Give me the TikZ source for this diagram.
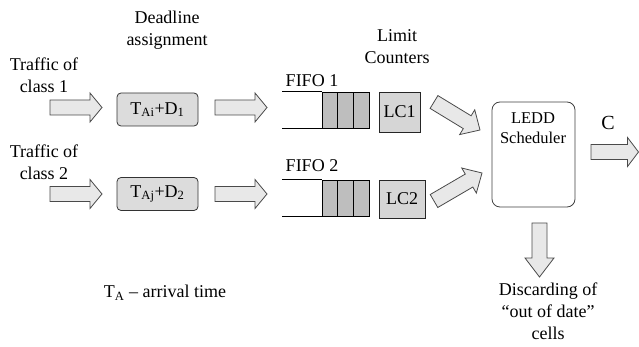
\documentclass[tikz,border=0pt]{standalone}
\usepackage{fontspec}
\setmainfont{Liberation Serif}
\usetikzlibrary{calc}
\definecolor{arrfill}{HTML}{E8E8E8}
\definecolor{arrline}{HTML}{4A4A4A}
\definecolor{cellgray}{HTML}{BEBEBE}
\definecolor{boxgray}{HTML}{DCDCDC}
\definecolor{lcgray}{HTML}{D6D6D6}
\newcommand{\blockarr}[3]{%
  \coordinate (bah) at ($(#2)!#3!(#1)$);
  \draw[blockarrow] ($(#1)!7.5pt!90:(#2)$) -- ($(bah)!7.5pt!90:(#2)$) -- ($(bah)!14.5pt!90:(#2)$) -- (#2)
    -- ($(bah)!14.5pt!-90:(#2)$) -- ($(bah)!7.5pt!-90:(#2)$) -- ($(#1)!7.5pt!-90:(#2)$) -- cycle;
}
\begin{document}
\begin{tikzpicture}[x=1pt,y=-1pt,
  txt/.style={font=\fontsize{18}{22}\selectfont, align=center, inner sep=0pt},
  blockarrow/.style={draw=arrline, fill=arrfill, line width=0.8pt, line join=miter},
  tbox/.style={draw=black!80, fill=boxgray, rounded corners=4pt, line width=0.8pt, minimum width=81pt, minimum height=33pt, inner sep=0pt, font=\fontsize{18}{22}\selectfont},
  cell/.style={draw=black, fill=cellgray, line width=0.8pt, minimum width=15.7pt, minimum height=36pt, inner sep=0pt},
  lcbox/.style={draw=black!85, fill=lcgray, line width=0.8pt, inner sep=0pt, font=\fontsize{18}{22}\selectfont},
  sched/.style={draw=black!75, fill=white, rounded corners=8pt, line width=0.8pt, minimum width=83pt, minimum height=105pt, inner sep=0pt}
]
\useasboundingbox (0,0) rectangle (639,347);

% texts
\node[txt] (dl) at (167,30) {Deadline\\assignment};
\node[txt] (tr1) at (44,75) {Traffic of\\class 1};
\node[txt] (tr2) at (44,162) {Traffic of\\class 2};
\node[txt] (lim) at (397,47) {Limit\\Counters};
\node[txt] (f1) at (312,81) {FIFO 1};
\node[txt] (f2) at (312,166) {FIFO 2};
\node[txt] (ta) at (165,293) {T\textsubscript{A} – arrival time};

% deadline boxes
\node[tbox] (d1) at (157.5,109.5) {T\textsubscript{Ai}+D\textsubscript{1}};
\node[tbox] (d2) at (157.5,194) {T\textsubscript{Aj}+D\textsubscript{2}};

% FIFO queues
\node[cell] (q1a) at (329.9,110) {};
\node[cell] (q1b) at (345.6,110) {};
\node[cell] (q1c) at (361.3,110) {};
\draw[line width=0.8pt] (q1a.north west) -- ++(-40,0);
\draw[line width=0.8pt] (q1a.south west) -- ++(-40,0);
\node[cell] (q2a) at (329.9,198) {};
\node[cell] (q2b) at (345.6,198) {};
\node[cell] (q2c) at (361.3,198) {};
\draw[line width=0.8pt] (q2a.north west) -- ++(-40,0);
\draw[line width=0.8pt] (q2a.south west) -- ++(-40,0);

% limit counters
\node[lcbox, minimum width=41pt, minimum height=40pt] (lc1) at (399.5,112) {LC1};
\node[lcbox, minimum width=46pt, minimum height=38pt] (lc2) at (402,199) {LC2};

% scheduler
\node[sched] (sch) at (533.5,154.5) {};
\node[font=\fontsize{16.5}{20}\selectfont, align=center, inner sep=0pt] (schl) at (533,128) {LEDD\\Scheduler};
\node[font=\fontsize{20}{24}\selectfont, inner sep=0pt] (cl) at (608,123) {C};
\node[txt] (disc) at (548,311) {Discarding of\\“out of date”\\cells};

% arrow end points
\coordinate (in1s) at (50,107.5);
\coordinate (in1e) at (102,107.5);
\coordinate (m1s) at (215,107.5);
\coordinate (m1e) at (267,107.5);
\coordinate (in2s) at (50,194);
\coordinate (in2e) at (102,194);
\coordinate (m2s) at (215,194);
\coordinate (m2e) at (267,194);
\coordinate (g1s) at (434,102);
\coordinate (g1e) at (480,130);
\coordinate (g2s) at (434,201);
\coordinate (g2e) at (482,173);
\coordinate (os) at (591,152);
\coordinate (oe) at (638.5,152);
\coordinate (ds) at (539.5,223);
\coordinate (de) at (539.5,277);

\blockarr{in1s}{in1e}{12pt}
\blockarr{m1s}{m1e}{12pt}
\blockarr{in2s}{in2e}{12pt}
\blockarr{m2s}{m2e}{12pt}
\blockarr{g1s}{g1e}{15pt}
\blockarr{g2s}{g2e}{15pt}
\blockarr{os}{oe}{11pt}
\blockarr{ds}{de}{19pt}
\end{tikzpicture}
\end{document}
